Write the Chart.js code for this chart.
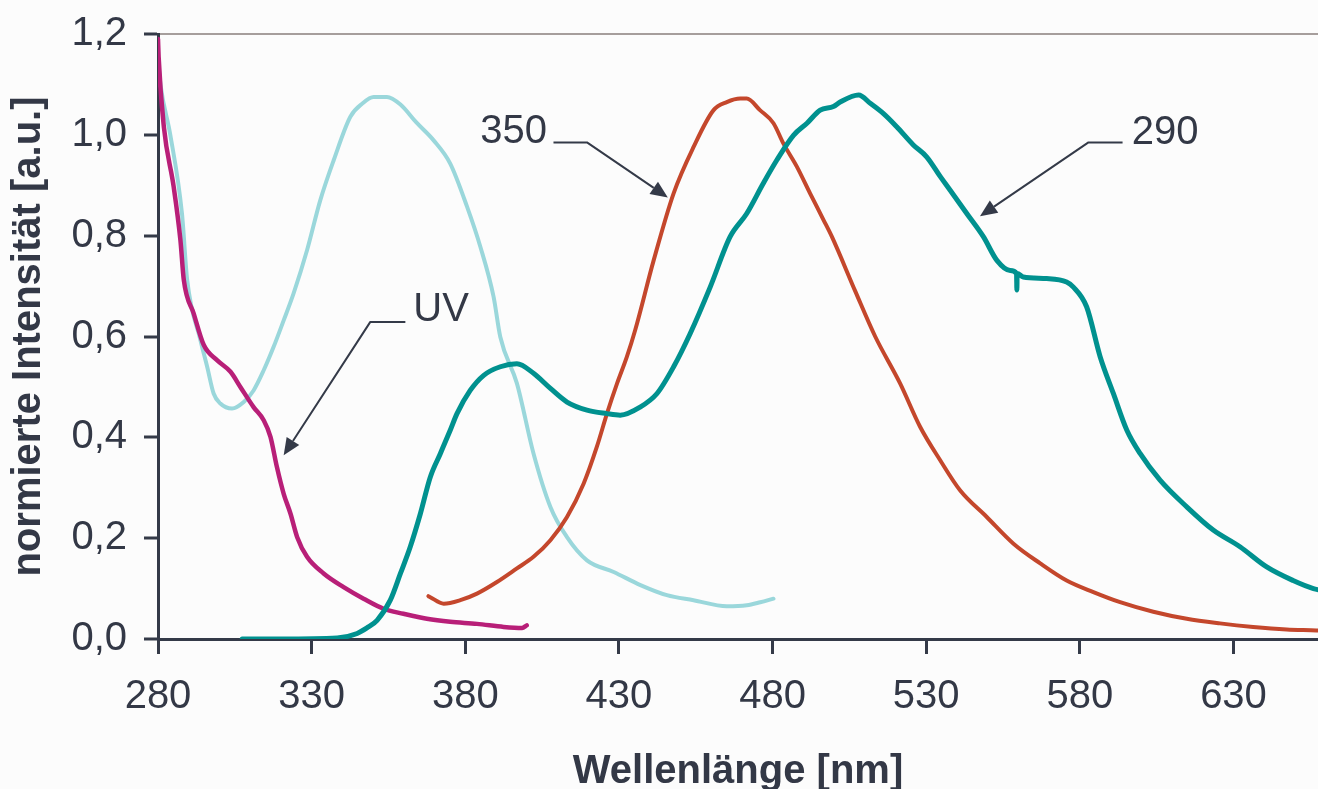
<!DOCTYPE html>
<html>
<head>
<meta charset="utf-8">
<title>Normierte Spektren</title>
<script src="https://cdn.jsdelivr.net/npm/chart.js@4.4.1/dist/chart.umd.min.js"></script>
<style>
  html, body { margin: 0; padding: 0; background: #fcfcfc; overflow: hidden; }
  #wrap { width: 1318px; height: 789px; }
  canvas { display: block; }
</style>
</head>
<body>
<div id="wrap"><canvas id="chart" width="1318" height="789"></canvas></div>
<script>
// Axis ticks
const xTicks = [280, 330, 380, 430, 480, 530, 580, 630];
const yTicks = [0, 0.2, 0.4, 0.6, 0.8, 1.0, 1.2];

// UV absorption (magenta)
const uvNm  = [280, 280.2, 281.9, 285.1, 287.3, 288.4, 291.6, 294.9, 299.2, 303.6, 306.8, 311.1, 314.4, 316.6, 318.7, 320.9, 323.1, 325.3, 328.5, 333.9, 340.4, 346.9, 353.4, 359.9, 367.5, 375.1, 383.8, 392.5, 398.5, 400];
const uvVal = [1.19, 1.155, 1.016, 0.897, 0.791, 0.712, 0.646, 0.583, 0.553, 0.530, 0.500, 0.460, 0.434, 0.401, 0.341, 0.288, 0.249, 0.202, 0.163, 0.130, 0.103, 0.080, 0.060, 0.050, 0.040, 0.034, 0.030, 0.024, 0.022, 0.027];

// Excitation spectrum (light cyan)
const exNm  = [280, 280.8, 284, 287.8, 289.5, 293.8, 296, 298.1, 300.3, 304.1, 307.9, 311.1, 314.4, 317.6, 320.9, 324.1, 328.5, 332.8, 337.2, 342.6, 346.5, 350.2, 354.5, 358.9, 364, 369.7, 375.1, 380.6, 384.9, 389.2, 391.4, 396.8, 402.2, 407.7, 413.1, 419.6, 428.3, 437, 445.6, 454.3, 465.1, 471.6, 476, 480.3];
const exVal = [1.15, 1.10, 1.0, 0.844, 0.712, 0.593, 0.540, 0.487, 0.467, 0.457, 0.470, 0.493, 0.533, 0.579, 0.632, 0.685, 0.771, 0.870, 0.950, 1.036, 1.062, 1.075, 1.075, 1.060, 1.025, 0.989, 0.943, 0.857, 0.778, 0.679, 0.599, 0.507, 0.368, 0.262, 0.202, 0.156, 0.133, 0.107, 0.087, 0.077, 0.065, 0.067, 0.073, 0.080];

// Emission, excitation at 290 nm (teal)
const em290Nm  = [307.4, 320, 338.3, 344.8, 348, 351.3, 355.6, 358.9, 362.1, 365.4, 368.6, 371.9, 375.1, 377.3, 381.6, 386, 391.4, 396.8, 402.2, 407.7, 413.1, 419.6, 426.1, 430.4, 436.9, 442.4, 447.8, 453.2, 459.7, 466.2, 471.6, 477, 481.4, 486.8, 491.2, 495.5, 499.8, 502, 508, 511.9, 516.1, 520.4, 525.8, 530.2, 534.6, 537.8, 543.2, 548.6, 553, 557.3, 559.4, 559.5, 559.6, 561.6, 569.2, 575.7, 577.9, 582.2, 586.6, 590.9, 595.3, 599.6, 606.1, 614.8, 623.4, 632.1, 640.8, 649.4, 656, 660];
const em290Val = [0, 0, 0.002, 0.011, 0.022, 0.037, 0.077, 0.130, 0.183, 0.249, 0.321, 0.368, 0.414, 0.447, 0.493, 0.523, 0.540, 0.546, 0.527, 0.497, 0.470, 0.454, 0.447, 0.444, 0.460, 0.487, 0.540, 0.606, 0.698, 0.798, 0.844, 0.904, 0.950, 0.999, 1.023, 1.049, 1.056, 1.065, 1.079, 1.062, 1.042, 1.016, 0.980, 0.956, 0.917, 0.890, 0.844, 0.798, 0.751, 0.731, 0.725, 0.692, 0.725, 0.718, 0.715, 0.708, 0.698, 0.659, 0.560, 0.487, 0.414, 0.368, 0.315, 0.262, 0.216, 0.183, 0.143, 0.116, 0.100, 0.095];

// Emission, excitation at 350 nm (orange-red)
const em350Nm  = [368, 368.6, 373, 378.4, 383.8, 390.3, 396.8, 402.2, 407.7, 413.1, 418.5, 422.8, 426.1, 429.4, 432.6, 435.3, 441.3, 447.8, 454.3, 460.8, 465.1, 469.5, 471.6, 475.9, 480.3, 483.5, 487.9, 492.2, 496.6, 499.3, 506.9, 513.4, 521.5, 528, 534.5, 541, 549.7, 558.4, 567.1, 575.7, 584.4, 593.1, 603.9, 614.8, 625.6, 636.4, 647.3, 657, 660];
const em350Val = [0.085, 0.083, 0.070, 0.077, 0.090, 0.113, 0.140, 0.163, 0.196, 0.242, 0.308, 0.381, 0.447, 0.507, 0.560, 0.613, 0.751, 0.884, 0.976, 1.049, 1.065, 1.072, 1.072, 1.049, 1.023, 0.983, 0.937, 0.884, 0.831, 0.798, 0.690, 0.600, 0.507, 0.421, 0.355, 0.295, 0.242, 0.189, 0.150, 0.116, 0.093, 0.073, 0.054, 0.040, 0.031, 0.024, 0.019, 0.017, 0.016];

const FONT = '"Liberation Sans", Arial, Helvetica, sans-serif';
const TEXT = '#333846';
const AXIS = '#343a48';

const pts = (xs, ys) => xs.map((x, i) => ({ x, y: ys[i] }));

// Callout labels with leader lines and arrowheads (in data units)
const callouts = [
  { text: 'UV',  align: 'left',  at: [363.1, 0.652], path: [[360.5, 0.629], [349.1, 0.629], [320.9, 0.3645]] },
  { text: '350', align: 'right', at: [406.6, 1.006], path: [[408.7, 0.985], [419.6, 0.985], [445.9, 0.8758]] },
  { text: '290', align: 'left',  at: [596.9, 1.004], path: [[593.9, 0.985], [582.8, 0.985], [547.5, 0.8387]] }
];

const calloutPlugin = {
  id: 'callouts',
  afterDatasetsDraw(chart) {
    const { ctx, scales: { x, y } } = chart;
    ctx.save();
    ctx.strokeStyle = AXIS;
    ctx.fillStyle = AXIS;
    ctx.lineWidth = 2;
    ctx.lineJoin = 'round';
    callouts.forEach(c => {
      const p = c.path.map(([a, b]) => [x.getPixelForValue(a), y.getPixelForValue(b)]);
      const tip = p[p.length - 1];
      const prev = p[p.length - 2];
      const ang = Math.atan2(tip[1] - prev[1], tip[0] - prev[0]);
      const len = 17, half = 7.5;
      const bx = tip[0] - len * Math.cos(ang), by = tip[1] - len * Math.sin(ang);
      ctx.beginPath();
      ctx.moveTo(p[0][0], p[0][1]);
      for (let i = 1; i < p.length - 1; i++) ctx.lineTo(p[i][0], p[i][1]);
      ctx.lineTo(bx, by);
      ctx.stroke();
      ctx.beginPath();
      ctx.moveTo(tip[0], tip[1]);
      ctx.lineTo(bx + half * Math.sin(ang), by - half * Math.cos(ang));
      ctx.lineTo(bx - half * Math.sin(ang), by + half * Math.cos(ang));
      ctx.closePath();
      ctx.fill();
      ctx.fillStyle = TEXT;
      ctx.font = '40px ' + FONT;
      ctx.textAlign = c.align;
      ctx.textBaseline = 'middle';
      ctx.fillText(c.text, x.getPixelForValue(c.at[0]), y.getPixelForValue(c.at[1]));
      ctx.fillStyle = AXIS;
    });
    ctx.restore();
  }
};

const line = (data, color, width, order) => ({
  data, borderColor: color, borderWidth: width, order,
  pointRadius: 0, fill: false, cubicInterpolationMode: 'monotone',
  borderJoinStyle: 'round', borderCapStyle: 'round'
});

new Chart(document.getElementById('chart'), {
  type: 'line',
  data: {
    datasets: [
      line(pts(exNm, exVal), '#9ad7db', 4, 4),
      line(pts(uvNm, uvVal), '#b81f78', 4.5, 3),
      line(pts(em350Nm, em350Val), '#c4472c', 4, 2),
      line(pts(em290Nm, em290Val), '#00918f', 5, 1)
    ]
  },
  options: {
    responsive: false,
    animation: false,
    devicePixelRatio: 1,
    layout: { padding: { top: 34, right: 0, bottom: 0, left: 0 } },
    plugins: { legend: { display: false }, tooltip: { enabled: false } },
    scales: {
      x: {
        type: 'linear', min: 280, max: 657.5,
        afterBuildTicks: s => { s.ticks = xTicks.map(v => ({ value: v })); },
        afterFit: s => { s.height = 150; s.paddingRight = 0; },
        ticks: { font: { family: FONT, size: 40 }, color: TEXT, padding: 19, maxRotation: 0, autoSkip: false },
        grid: { drawOnChartArea: false, drawTicks: true, tickLength: 15, tickWidth: 3, tickColor: AXIS },
        border: { color: AXIS, width: 3 },
        title: { display: true, text: 'Wellenlänge [nm]', color: TEXT,
                 font: { family: FONT, size: 40, weight: 'bold', lineHeight: 1 },
                 padding: { top: 0, bottom: -3 } }
      },
      y: {
        type: 'linear', min: 0, max: 1.2,
        afterBuildTicks: s => { s.ticks = yTicks.map(v => ({ value: v })); },
        afterFit: s => { s.width = 158; s.paddingTop = 0; s.paddingBottom = 0; },
        ticks: { font: { family: FONT, size: 40 }, color: TEXT, padding: 17,
                 callback: v => v.toFixed(1).replace('.', ',') },
        grid: { drawOnChartArea: true, drawTicks: true, tickLength: 14, tickWidth: 3, tickColor: AXIS,
                color: c => (c.tick && Math.abs(c.tick.value - 1.2) < 1e-9) ? '#a69e9c' : 'rgba(0,0,0,0)',
                lineWidth: 2 },
        border: { color: AXIS, width: 3 },
        title: { display: true, text: 'normierte Intensität [a.u.]', color: TEXT,
                 font: { family: FONT, size: 40, weight: 'bold', lineHeight: 1 },
                 padding: { top: 9, bottom: 0 } }
      }
    }
  },
  plugins: [calloutPlugin]
});
</script>
</body>
</html>
